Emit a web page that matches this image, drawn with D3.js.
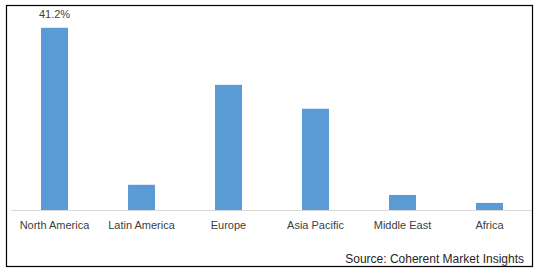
<!DOCTYPE html>
<html>
<head>
<meta charset="utf-8">
<script src="https://cdn.jsdelivr.net/npm/d3@7"></script>
<style>
  body { margin: 0; background: #fff; }
</style>
</head>
<body>
<script>
// regional share, %
const regions = ["North America", "Latin America", "Europe", "Asia Pacific", "Middle East", "Africa"];
const shares = [41.2, 5.7, 28.3, 22.9, 3.4, 1.6];
const labelled = ["North America"];

const width = 538, height = 272;

const svg = d3.select("body").append("svg")
    .attr("width", width)
    .attr("height", height)
    .attr("font-family", "Liberation Sans, Arial, sans-serif");

svg.append("rect")
    .attr("x", 6.5).attr("y", 5.5)
    .attr("width", 526).attr("height", 261)
    .attr("fill", "#fff")
    .attr("stroke", "#000")
    .attr("stroke-width", 1.2);

const x = d3.scaleBand()
    .domain(regions)
    .range([11, 533])
    .paddingInner(0.69)
    .paddingOuter(0.345);

const y = d3.scaleLinear()
    .domain([0, 45])
    .range([210, 11]);

const data = regions.map((r, i) => ({region: r, value: shares[i]}));

svg.append("g")
  .selectAll("rect")
  .data(data)
  .join("rect")
    .attr("x", d => x(d.region))
    .attr("y", d => y(d.value))
    .attr("width", x.bandwidth())
    .attr("height", d => y(0) - y(d.value))
    .attr("fill", "#5b9bd5");

svg.append("line")
    .attr("x1", 11).attr("x2", 532)
    .attr("y1", y(0) + 0.5).attr("y2", y(0) + 0.5)
    .attr("stroke", "#d9d9d9");

svg.append("g")
    .attr("font-size", 11)
    .attr("fill", "#404040")
    .attr("text-anchor", "middle")
  .selectAll("text")
  .data(regions)
  .join("text")
    .attr("x", d => x(d) + x.bandwidth() / 2)
    .attr("y", 229)
    .text(d => d);

svg.append("g")
    .attr("font-size", 11)
    .attr("fill", "#404040")
    .attr("text-anchor", "middle")
  .selectAll("text")
  .data(data.filter(d => labelled.includes(d.region)))
  .join("text")
    .attr("x", d => x(d.region) + x.bandwidth() / 2)
    .attr("y", d => y(d.value) - 10)
    .text(d => d.value.toFixed(1) + "%");

svg.append("text")
    .attr("x", 524)
    .attr("y", 263)
    .attr("text-anchor", "end")
    .attr("font-size", 12)
    .attr("fill", "#262626")
    .text("Source: Coherent Market Insights");
</script>
</body>
</html>
